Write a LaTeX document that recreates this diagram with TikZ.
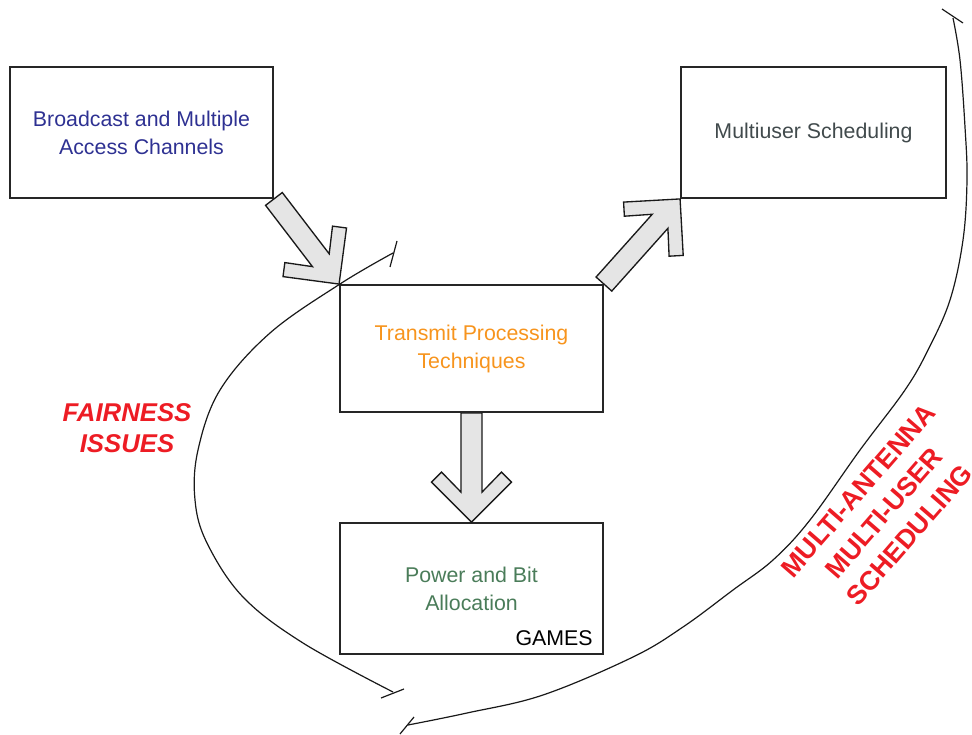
\documentclass[tikz,border=0pt]{standalone}
\usepackage{fontspec}
\setmainfont{Liberation Sans}
\usetikzlibrary{calc}

\definecolor{chanblue}{HTML}{2E3192}
\definecolor{txorange}{HTML}{F7941D}
\definecolor{powgreen}{HTML}{4A7C59}
\definecolor{schedgray}{HTML}{414A4C}
\definecolor{notered}{HTML}{ED1C24}

\tikzset{
  block/.style={draw=black!85, line width=1.4pt, inner sep=0pt,
    minimum width=197.25pt, minimum height=98.25pt, align=center,
    font=\fontsize{16}{21}\selectfont},
  fatarrow/.style={draw=black!90, fill=black!10, line width=1pt, line join=miter},
  loopline/.style={draw=black!90, line width=0.9pt},
  redlabel/.style={text=notered, align=center, font=\bfseries\fontsize{20}{25.5}\selectfont}
}

% block arrow from #1 (tail) to #2 (tip)
\newcommand{\fatarrow}[2]{%
  \draw [fatarrow] ($(#1)!7.9pt!90:(#2)$)
    -- ($(#2)!22.5pt!(#1)!7.9pt!-90:(#1)$)
    -- ($(#2)!37.5pt!(#1)!22.5pt!-90:(#1)$)
    -- ($(#2)!30pt!(#1)!30pt!-90:(#1)$)
    -- (#2)
    -- ($(#2)!30pt!(#1)!30pt!90:(#1)$)
    -- ($(#2)!37.5pt!(#1)!22.5pt!90:(#1)$)
    -- ($(#2)!22.5pt!(#1)!7.9pt!90:(#1)$)
    -- ($(#1)!7.9pt!-90:(#2)$) -- cycle;}

\begin{document}
\begin{tikzpicture}[x=0.75pt, y=-0.75pt]
\useasboundingbox (0,0) rectangle (972,735);

%BOXES
\node [block, text=chanblue] (bcast) at (141.5,132.5) {Broadcast and Multiple\\Access Channels};
\node [block, text=schedgray, minimum width=198.75pt] (sched) at (813.5,132.5) {Multiuser Scheduling};
\node [block, text=txorange, minimum height=95.25pt] (txproc) at (471.5,348.5) {Transmit Processing\\Techniques};
\node [block, text=powgreen] (power) at (471.5,588.5) {Power and Bit\\Allocation};
\node [anchor=base east, inner sep=0pt, font=\fontsize{16}{21}\selectfont] (games)
  at ($(power.south east)+(-11,-9)$) {GAMES};

%ARROWS
\fatarrow{bcast.south east}{txproc.north west}
\fatarrow{txproc.north east}{sched.south west}
\fatarrow{txproc.south}{power.north}

%FAIRNESS LOOP
\coordinate (fairtop) at (393,253);
\coordinate (fairbot) at (393,692);
\draw [loopline] plot [smooth, tension=0.6] coordinates {(fairtop) (340,284) (270,333)
  (220,390) (198,450) (195,500) (207,543) (243,597) (303,643) (393,692)};
\draw [loopline] (397,241) -- (390,267);
\draw [loopline] (381,698) -- (404,689);

%SCHEDULING LOOP
\coordinate (schedtop) at (953,18);
\coordinate (schedbot) at (408,725);
\draw [loopline] plot [smooth, tension=0.6] coordinates {(schedtop) (960,60) (965,127)
  (967,180) (963,240) (950,300) (928,350) (905,390) (860,450) (810,520) (773,560)
  (733,590) (683,627) (633,657) (543,695) (467,713) (schedbot)};
\draw [loopline] (942,9) -- (963,23);
\draw [loopline] (400,734) -- (414,717);

%LABELS
\node [redlabel, font=\bfseries\itshape\fontsize{19.3}{23.3}\selectfont] (fair) at (127,428) {FAIRNESS\\ISSUES};
\node [redlabel, rotate=49] (mamu) at (884,513) {MULTI-ANTENNA\\MULTI-USER\\SCHEDULING};

\end{tikzpicture}
\end{document}
